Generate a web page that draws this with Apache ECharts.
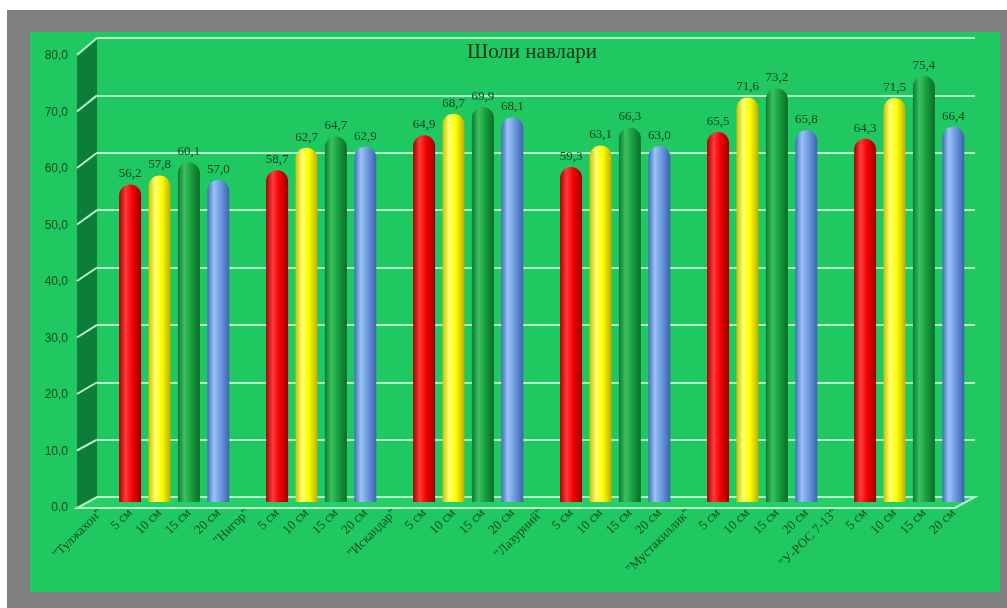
<!DOCTYPE html>
<html>
<head>
<meta charset="utf-8">
<script src="https://cdn.jsdelivr.net/npm/echarts@6/dist/echarts.min.js"></script>
<style>
  html, body { margin: 0; padding: 0; background: #ffffff; }
  #frame { position: absolute; left: 7px; top: 10px; width: 1000px; height: 598px; background: #7f7f7f; }
  #panel { position: absolute; left: 30px; top: 32px; width: 970px; height: 560px; background: #20c862; }
  #chart { position: absolute; left: 0; top: 0; width: 1007px; height: 608px; }
</style>
</head>
<body>
<div id="frame"></div>
<div id="panel"></div>
<div id="chart"></div>
<script>
// Rice varieties and sowing depths
const varieties = ['"Тулжахон"', '"Нигор"', '"Искандар"', '"Лазурний"', '"Мустакиллик"', '"У-РОС 7-13"'];
const depths = ['5 см', '10 см', '15 см', '20 см'];

// Values for each depth, one entry per variety
const depth5 = [56.2, 58.7, 64.9, 59.3, 65.5, 64.3];
const depth10 = [57.8, 62.7, 68.7, 63.1, 71.6, 71.5];
const depth15 = [60.1, 64.7, 69.9, 66.3, 73.2, 75.4];
const depth20 = [57.0, 62.9, 68.1, 63.0, 65.8, 66.4];

const yTickLabels = ['0,0', '10,0', '20,0', '30,0', '40,0', '50,0', '60,0', '70,0', '80,0'];

const depthValues = [depth5, depth10, depth15, depth20];
const baseColors = [
  ['#a80000', '#ff3a3a', '#f20000', '#9a0000'],
  ['#c8c000', '#ffff70', '#ffff00', '#b8b000'],
  ['#0b7a30', '#3cc060', '#1aa040', '#0a6a28'],
  ['#3e6fb8', '#9cc2f4', '#6b9be0', '#3a64a8']
];

// Flat category list: variety name slot followed by its four depth slots
const categories = [];
varieties.forEach(v => { categories.push(v); depths.forEach(d => categories.push(d)); });

function fmt(v) { return Number(v).toFixed(1).replace('.', ','); }

const series = depths.map((d, di) => {
  const data = categories.map(() => '-');
  varieties.forEach((v, vi) => { data[vi * 5 + 1 + di] = depthValues[di][vi]; });
  const c = baseColors[di];
  return {
    name: d,
    type: 'bar',
    xAxisIndex: 1,
    yAxisIndex: 1,
    barWidth: 22,
    barGap: '-100%',
    z: 3,
    data: data,
    itemStyle: {
      borderRadius: [11, 11, 0, 0],
      color: new echarts.graphic.LinearGradient(0, 0, 1, 0, [
        { offset: 0, color: c[0] },
        { offset: 0.3, color: c[1] },
        { offset: 0.6, color: c[2] },
        { offset: 1, color: c[3] }
      ])
    },
    label: {
      show: true,
      position: 'top',
      distance: 4,
      formatter: p => fmt(p.value),
      fontFamily: 'Liberation Serif',
      fontSize: 13,
      color: '#0e3d1f'
    }
  };
});

const chart = echarts.init(document.getElementById('chart'), null, { renderer: 'canvas' });

const option = {
  backgroundColor: 'transparent',
  animation: false,
  title: {
    text: 'Шоли навлари',
    left: 527,
    top: 37,
    textAlign: 'center',
    textStyle: { fontFamily: 'Liberation Serif', fontSize: 21, fontWeight: 'normal', color: '#0d2f18' }
  },
  grid: [
    { left: 97, right: 32, top: 38, bottom: 111 },
    { left: 86, right: 39, top: 50, bottom: 106 }
  ],
  xAxis: [
    { type: 'category', gridIndex: 0, data: categories, show: false },
    {
      type: 'category', gridIndex: 1, data: categories,
      axisLine: { show: false }, axisTick: { show: false },
      axisLabel: {
        interval: 0, rotate: 45, margin: 9,
        fontFamily: 'Liberation Serif', fontSize: 13, color: '#0a4a20'
      }
    }
  ],
  yAxis: [
    {
      type: 'value', gridIndex: 0, min: 0, max: 80, interval: 10,
      axisLabel: { show: false }, axisLine: { show: false }, axisTick: { show: false },
      splitLine: { lineStyle: { color: '#b4f2c8', width: 2 } }
    },
    {
      type: 'value', gridIndex: 1, min: 0, max: 80, interval: 10,
      axisLine: { show: false }, axisTick: { show: false }, splitLine: { show: false },
      axisLabel: {
        margin: 18,
        verticalAlign: 'top',
        lineHeight: 12,
        formatter: v => yTickLabels[Math.round(v / 10)],
        fontFamily: 'Liberation Sans', fontSize: 12, color: '#0a4a20'
      }
    }
  ],
  series: series
};

chart.setOption(option);

// Side wall, floor and slanted tick connectors between the front and back scales
function addDepth() {
  const yBack = v => chart.convertToPixel({ yAxisIndex: 0 }, v);
  const yFront = v => chart.convertToPixel({ yAxisIndex: 1 }, v) + 5;
  const xBack0 = chart.convertToPixel({ xAxisIndex: 0 }, 0) - (878 / 30) / 2;
  const xBack1 = xBack0 + 878;
  const dx = 20;
  const xFront0 = xBack0 - dx;
  const xFront1 = xBack1 - dx;
  const els = [];
  els.push({
    type: 'polygon', z: 1, silent: true,
    shape: { points: [[xFront0, yFront(80)], [xBack0, yBack(80)], [xBack0, yBack(0)], [xFront0, yFront(0)]] },
    style: { fill: '#0d7d3a' }
  });
  els.push({
    type: 'polygon', z: 1, silent: true,
    shape: { points: [[xFront0, yFront(0) + 1], [xBack0, yBack(0)], [xBack1, yBack(0)], [xFront1, yFront(0) + 1]] },
    style: { fill: '#25cf68', stroke: '#b4f2c8', lineWidth: 2 }
  });
  for (let v = 10; v <= 80; v += 10) {
    els.push({
      type: 'line', z: 1, silent: true,
      shape: { x1: xFront0, y1: yFront(v), x2: xBack0, y2: yBack(v) },
      style: { stroke: '#b4f2c8', lineWidth: 2 }
    });
  }
  chart.setOption({ graphic: els });
}
addDepth();
</script>
</body>
</html>
